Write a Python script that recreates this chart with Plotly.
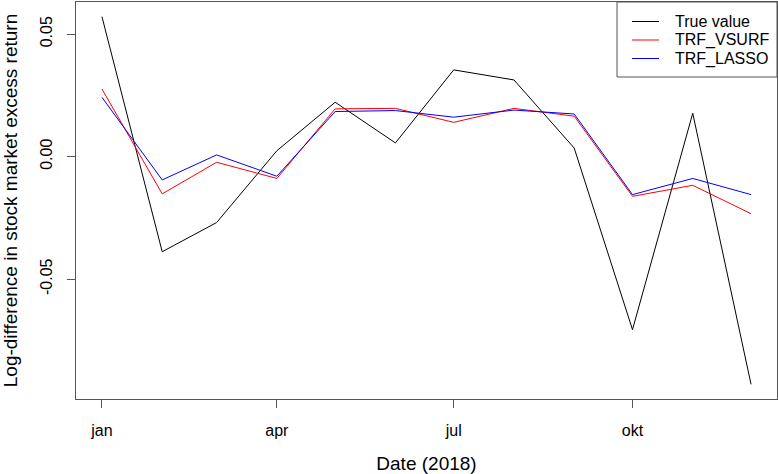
import plotly.graph_objects as go
import pandas as pd

# Monthly observations for 2018
months = ["2018-01-01", "2018-02-01", "2018-03-01", "2018-04-01", "2018-05-01", "2018-06-01",
          "2018-07-01", "2018-08-01", "2018-09-01", "2018-10-01", "2018-11-01", "2018-12-01"]

true_value = [0.0571, -0.0388, -0.0269, 0.0024, 0.0222, 0.0056,
              0.0354, 0.0313, 0.0035, -0.0706, 0.0177, -0.0929]
trf_vsurf = [0.0276, -0.0152, -0.0023, -0.0089, 0.0195, 0.0197,
             0.0140, 0.0197, 0.0165, -0.0162, -0.0117, -0.0233]
trf_lasso = [0.0242, -0.0095, 0.0007, -0.0080, 0.0184, 0.0188,
             0.0161, 0.0190, 0.0174, -0.0155, -0.0089, -0.0155]

series_names = ["True value", "TRF_VSURF", "TRF_LASSO"]
series_colors = ["black", "red", "blue"]

tick_dates = ["2018-01-01", "2018-04-01", "2018-07-01", "2018-10-01"]
tick_text = ["jan", "apr", "jul", "okt"]
y_ticks = [-0.05, 0.0, 0.05]
y_tick_text = ["-0.05", "0.00", "0.05"]

dates = pd.to_datetime(months)

# Axis ranges padded by 4% on each side of the data
x_span = dates.max() - dates.min()
x_range = [dates.min() - 0.04 * x_span, dates.max() + 0.04 * x_span]
all_y = true_value + trf_vsurf + trf_lasso
y_lo, y_hi = min(all_y), max(all_y)
y_pad = 0.04 * (y_hi - y_lo)
y_range = [y_lo - y_pad, y_hi + y_pad]

W, H = 778, 474
M = dict(l=76, r=1, t=2, b=75)
plot_w = W - M["l"] - M["r"]
plot_h = H - M["t"] - M["b"]


def px_x(px):
    """Pixel column -> paper x."""
    return (px - M["l"]) / plot_w


def px_y(py):
    """Pixel row (from top) -> paper y."""
    return 1 - (py - M["t"]) / plot_h


fig = go.Figure()
for name, color, values in zip(series_names, series_colors, [true_value, trf_vsurf, trf_lasso]):
    fig.add_trace(go.Scatter(x=dates, y=values, mode="lines", name=name,
                             line=dict(color=color, width=1), showlegend=False))

axis_color = "#555555"

# Boxed legend in the top-right corner
shapes = [dict(type="rect", xref="paper", yref="paper",
               x0=px_x(617), x1=1, y0=px_y(77), y1=1,
               line=dict(color=axis_color, width=1), fillcolor="white", layer="above")]
annotations = []
row_y = [21.5, 40, 58.5]
for name, color, ry in zip(series_names, series_colors, row_y):
    shapes.append(dict(type="line", xref="paper", yref="paper",
                       x0=px_x(632), x1=px_x(659), y0=px_y(ry), y1=px_y(ry),
                       line=dict(color=color, width=1), layer="above"))
    annotations.append(dict(xref="paper", yref="paper", x=px_x(673), y=px_y(ry),
                            xanchor="left", yanchor="middle", text=name, showarrow=False,
                            font=dict(size=16, color="black")))

fig.update_layout(
    width=W, height=H,
    margin=M,
    paper_bgcolor="white", plot_bgcolor="white",
    font=dict(family="Liberation Sans, Arial, sans-serif", size=16, color="black"),
    showlegend=False,
    shapes=shapes,
    annotations=annotations,
    xaxis=dict(
        type="date", range=x_range, showgrid=False, zeroline=False,
        showline=True, mirror=True, linecolor=axis_color, linewidth=1,
        ticks="outside", ticklen=8, tickcolor=axis_color,
        tickvals=pd.to_datetime(tick_dates), ticktext=tick_text,
        ticklabelstandoff=9,
        title=dict(text="Date (2018)", standoff=19),
    ),
    yaxis=dict(
        range=y_range, showgrid=False, zeroline=False,
        showline=True, mirror=True, linecolor=axis_color, linewidth=1,
        ticks="outside", ticklen=8, tickcolor=axis_color,
        tickvals=y_ticks, ticktext=y_tick_text, tickangle=-90,
        ticklabelstandoff=9,
        title=dict(text="Log-difference in stock market excess return", standoff=16),
    ),
)

fig.write_html("out.html")
